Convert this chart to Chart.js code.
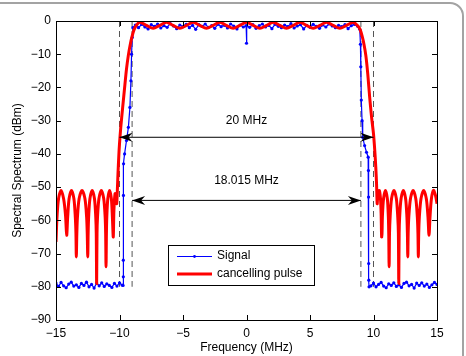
<!DOCTYPE html>
<html>
<head>
<meta charset="utf-8">
<script src="https://cdn.jsdelivr.net/npm/chart.js@4.4.0/dist/chart.umd.min.js"></script>
<style>
html, body { margin: 0; padding: 0; background: #fff; overflow: hidden; }
#wrap { position: relative; width: 466px; height: 356px; overflow: hidden; }
#frame { position: absolute; left: -30px; top: 2px; width: 494px; height: 400px; border: 2px solid #a3a3a3; border-radius: 14px; box-sizing: border-box; }
canvas { position: absolute; left: 0; top: 0; }
</style>
</head>
<body>
<div id="wrap">
  <div id="frame"></div>
  <canvas id="chart" width="466" height="356"></canvas>
</div>
<script>
// Axis ranges and ticks
var xTicks = [-15, -10, -5, 0, 5, 10, 15];
var yTicks = [-90, -80, -70, -60, -50, -40, -30, -20, -10, 0];

// Signal (blue), read segment by segment
var floorLeftFreq = [-15, -14.8, -14.6, -14.4, -14.2, -14, -13.8, -13.6, -13.4, -13.2, -13, -12.8, -12.6, -12.4, -12.2, -12, -11.8, -11.6, -11.4, -11.2, -11, -10.8, -10.6, -10.4, -10.2, -10, -9.8];
var floorLeftLevel = [-78.9, -79.9, -78.7, -79.7, -80.3, -79.2, -78.6, -79.8, -79.4, -80.2, -79.0, -79.6, -78.6, -80.0, -79.3, -80.4, -78.9, -79.7, -78.8, -79.9, -79.1, -79.6, -80.2, -79.0, -79.8, -78.8, -79.5];
var riseFreq = [-9.72, -9.7, -9.7, -9.69, -9.68, -9.6, -9.45, -9.3, -9.18, -9.1, -9.05, -9.0, -8.95];
var riseLevel = [-79.6, -77, -72, -52.5, -43, -40, -36, -32, -26, -18, -10, -5, -2];
var passFreq = [-8.75, -8.5, -8.25, -8, -7.75, -7.5, -7.25, -7, -6.75, -6.5, -6.25, -6, -5.75, -5.5, -5.25, -5, -4.75, -4.5, -4.25, -4, -3.75, -3.5, -3.25, -3, -2.75, -2.5, -2.25, -2, -1.75, -1.5, -1.25, -1, -0.75, -0.5, -0.25,
  -0.03, 0, 0.03,
  0.25, 0.5, 0.75, 1, 1.25, 1.5, 1.75, 2, 2.25, 2.5, 2.75, 3, 3.25, 3.5, 3.75, 4, 4.25, 4.5, 4.75, 5, 5.25, 5.5, 5.75, 6, 6.25, 6.5, 6.75, 7, 7.25, 7.5, 7.75, 8, 8.25, 8.5, 8.75];
var passLevel = [-1.2, -2.0, -1.0, -1.8, -2.4, -1.1, -1.6, -0.9, -2.1, -1.4, -1.9, -0.8, -1.5, -2.3, -1.2, -1.7, -1.0, -2.0, -1.3, -2.5, -1.1, -1.6, -0.9, -1.9, -1.4, -2.2, -1.0, -1.7, -1.3, -2.1, -0.9, -1.5, -2.4, -1.2, -1.8,
  -1.4, -6.7, -1.5,
  -1.9, -1.1, -2.2, -1.4, -0.9, -1.8, -1.3, -2.3, -1.0, -1.6, -2.0, -1.2, -1.7, -0.8, -2.1, -1.5, -1.1, -2.4, -1.3, -1.9, -1.0, -1.6, -2.2, -1.2, -1.8, -0.9, -1.5, -2.0, -1.3, -1.7, -1.1, -2.3, -1.4, -1.0, -1.6];
var fallFreq = [8.92, 8.97, 9.0, 9.04, 9.1, 9.15, 9.3, 9.45, 9.58, 9.6, 9.61, 9.62, 9.63, 9.65];
var fallLevel = [-2.5, -7, -13.8, -23.8, -30, -35, -37.5, -39.5, -41, -45, -53, -73, -78, -80];
var floorRightFreq = [9.8, 10, 10.2, 10.4, 10.6, 10.8, 11, 11.2, 11.4, 11.6, 11.8, 12, 12.2, 12.4, 12.6, 12.8, 13, 13.2, 13.4, 13.6, 13.8, 14, 14.2, 14.4, 14.6, 14.8, 15];
var floorRightLevel = [-79.7, -78.9, -80.0, -79.3, -78.7, -79.8, -80.3, -79.1, -79.6, -78.8, -79.9, -79.4, -80.2, -79.0, -78.6, -79.7, -79.3, -80.4, -78.9, -79.6, -78.8, -79.8, -79.2, -80.2, -79.4, -78.7, -79.3];

// Cancelling pulse (red)
var pulseLeftFreq = [-15.0, -14.92, -14.8, -14.6, -14.4, -14.25, -14.16,
  -14.08, -13.97, -13.78, -13.59, -13.48, -13.43, -13.4,
  -13.36, -13.31, -13.18, -12.95, -12.72, -12.59, -12.54, -12.5,
  -12.47, -12.43, -12.33, -12.15, -11.97, -11.87, -11.83, -11.8,
  -11.77, -11.73, -11.62, -11.43, -11.24, -11.13, -11.09, -11.06,
  -11.03, -11.0, -10.92, -10.78, -10.64, -10.56, -10.49,
  -10.44, -10.35, -10.27, -10.22,
  -10.17, -10.12, -10.06, -10.0, -9.9, -9.75, -9.57, -9.45, -9.31, -9.15, -9.0, -8.85, -8.65, -8.4];
var pulseLeftLevel = [-66.5, -59, -53.5, -51, -53.5, -58.5, -64.5,
  -59, -53.5, -51, -53.5, -59, -64, -71,
  -64, -59, -53.5, -51, -53.5, -59, -64, -71,
  -64, -59, -53.5, -51, -53.5, -59, -64, -79,
  -64, -59, -53.5, -51, -53.5, -59, -64, -74,
  -64, -59, -53.5, -51, -53.5, -59, -65,
  -57, -52, -53, -55,
  -51, -46, -41, -37, -32, -26, -19, -14.5, -10.5, -7, -4.5, -2.6, -1.2, -0.4];
var pulseTopFreq = [-7.87, -7.35, -6.83, -6.3, -5.78, -5.25, -4.73, -4.2, -3.68, -3.15, -2.63, -2.1, -1.58, -1.05, -0.53, 0,
  0.53, 1.05, 1.58, 2.1, 2.63, 3.15, 3.68, 4.2, 4.73, 5.25, 5.78, 6.3, 6.83, 7.35, 7.87, 8.4];
var pulseTopLevel = [-1.3, -2.2, -1.3, -0.4, -1.3, -2.2, -1.3, -0.4, -1.3, -2.2, -1.3, -0.4, -1.3, -2.2, -1.3, -0.4,
  -1.3, -2.2, -1.3, -0.4, -1.3, -2.2, -1.3, -0.4, -1.3, -2.2, -1.3, -0.4, -1.3, -2.2, -1.3, -0.4];
var pulseRightFreq = [8.6, 8.8, 8.95, 9.1, 9.25, 9.4, 9.55, 9.7, 9.85, 10.0, 10.1, 10.18, 10.24, 10.29,
  10.34, 10.46, 10.55, 10.6, 10.64,
  10.67, 10.7, 10.79, 10.94, 11.09, 11.17, 11.2, 11.23,
  11.26, 11.31, 11.42, 11.61, 11.8, 11.91, 11.96, 11.99,
  12.02, 12.06, 12.17, 12.35, 12.53, 12.63, 12.67, 12.7,
  12.73, 12.78, 12.91, 13.12, 13.33, 13.45, 13.5, 13.53,
  13.56, 13.61, 13.74, 13.95, 14.16, 14.29, 14.37,
  14.45, 14.56, 14.72, 14.88, 15.0];
var pulseRightLevel = [-0.9, -1.6, -2.6, -4.5, -7, -10.5, -16, -23, -29, -34, -39, -44, -49, -55,
  -52.5, -51, -53.5, -58, -65,
  -64, -59, -53.5, -51, -53.5, -59, -64, -74,
  -64, -59, -53.5, -51, -53.5, -59, -64, -79,
  -64, -59, -53.5, -51, -53.5, -59, -64, -71,
  -64, -59, -53.5, -51, -53.5, -59, -64, -71,
  -64, -59, -53.5, -51, -53.5, -59, -64.5,
  -59, -53.5, -51, -52.5, -55];

// Dashed band edges and the two bandwidth arrows
var edgeFreq = [-10, -9.0075, 9.0075, 10];
var edgeRange = [0, -80];
var spanLabels = ['20 MHz', '18.015 MHz'];
var spanFrom = [-10, -9.0075];
var spanTo = [10, 9.0075];
var spanLevel = [-35, -54];
var spanTextLevel = [-30, -48];

var FONT = '"Liberation Sans", Arial, Helvetica, sans-serif';

function toPoints(xs, ys) {
    return xs.map(function(x, i) { return { x: x, y: ys[i] }; });
}

function minusSign(v) {
    return String(v).replace('-', '\u2212');
}

var signalPoints = toPoints(floorLeftFreq, floorLeftLevel)
    .concat(toPoints(riseFreq, riseLevel))
    .concat(toPoints(passFreq, passLevel))
    .concat(toPoints(fallFreq, fallLevel))
    .concat(toPoints(floorRightFreq, floorRightLevel));

var pulsePoints = toPoints(pulseLeftFreq, pulseLeftLevel)
    .concat(toPoints(pulseTopFreq, pulseTopLevel))
    .concat(toPoints(pulseRightFreq, pulseRightLevel));

var datasets = [];

// arrows on top
spanLabels.forEach(function(label, i) {
    datasets.push({
        label: label,
        data: [{ x: spanFrom[i], y: spanLevel[i] }, { x: spanTo[i], y: spanLevel[i] }],
        borderColor: '#000',
        borderWidth: 1,
        pointRadius: 0,
        order: 0
    });
});

datasets.push({
    label: 'cancelling pulse',
    data: pulsePoints,
    borderColor: '#ff0000',
    borderWidth: 3,
    pointRadius: 0,
    tension: 0.3,
    order: 1
});

datasets.push({
    label: 'Signal',
    data: signalPoints,
    borderColor: '#0000ff',
    borderWidth: 1.2,
    pointRadius: 1.6,
    pointBorderWidth: 0,
    pointBackgroundColor: '#0000ff',
    tension: 0,
    order: 2
});

edgeFreq.forEach(function(f) {
    datasets.push({
        label: 'edge',
        data: [{ x: f, y: edgeRange[0] }, { x: f, y: edgeRange[1] }],
        borderColor: '#555',
        borderWidth: 1,
        borderDash: [6, 4],
        pointRadius: 0,
        order: 3
    });
});

function drawHead(ctx, x, y, dir) {
    ctx.beginPath();
    ctx.moveTo(x, y);
    ctx.lineTo(x - dir * 13, y - 4.5);
    ctx.lineTo(x - dir * 9, y);
    ctx.lineTo(x - dir * 13, y + 4.5);
    ctx.closePath();
    ctx.fill();
}

// Arrow heads, span texts, box with inward ticks and the legend
var decorations = {
    id: 'decorations',
    afterDraw: function(chart) {
        var ctx = chart.ctx;
        var xs = chart.scales.x;
        var ys = chart.scales.y;
        var area = chart.chartArea;
        ctx.save();

        ctx.fillStyle = '#000';
        spanLabels.forEach(function(label, i) {
            var y = ys.getPixelForValue(spanLevel[i]);
            drawHead(ctx, xs.getPixelForValue(spanFrom[i]), y, -1);
            drawHead(ctx, xs.getPixelForValue(spanTo[i]), y, 1);
            ctx.font = '12px ' + FONT;
            ctx.textAlign = 'center';
            ctx.textBaseline = 'middle';
            ctx.fillText(label, xs.getPixelForValue(0), ys.getPixelForValue(spanTextLevel[i]));
        });

        // box
        ctx.strokeStyle = '#000';
        ctx.lineWidth = 1;
        ctx.strokeRect(Math.round(area.left) + 0.5, Math.round(area.top) + 0.5,
            Math.round(area.right - area.left), Math.round(area.bottom - area.top));

        // inward ticks
        ctx.beginPath();
        xTicks.forEach(function(v) {
            var px = Math.round(xs.getPixelForValue(v)) + 0.5;
            ctx.moveTo(px, area.bottom); ctx.lineTo(px, area.bottom - 5);
            ctx.moveTo(px, area.top); ctx.lineTo(px, area.top + 5);
        });
        yTicks.forEach(function(v) {
            var py = Math.round(ys.getPixelForValue(v)) + 0.5;
            ctx.moveTo(area.left, py); ctx.lineTo(area.left + 5, py);
            ctx.moveTo(area.right, py); ctx.lineTo(area.right - 5, py);
        });
        ctx.stroke();

        // legend
        var lx = 168, ly = 245, lw = 146, lh = 40;
        ctx.fillStyle = '#fff';
        ctx.fillRect(lx, ly, lw, lh);
        ctx.strokeStyle = '#000';
        ctx.strokeRect(lx + 0.5, ly + 0.5, lw, lh);

        ctx.strokeStyle = '#0000ff';
        ctx.lineWidth = 1;
        ctx.beginPath();
        ctx.moveTo(177, 256.5); ctx.lineTo(212, 256.5);
        ctx.stroke();
        ctx.fillStyle = '#0000ff';
        ctx.beginPath();
        ctx.arc(194.5, 256.5, 1.4, 0, Math.PI * 2);
        ctx.fill();

        ctx.strokeStyle = '#ff0000';
        ctx.lineWidth = 3;
        ctx.beginPath();
        ctx.moveTo(177, 274); ctx.lineTo(212, 274);
        ctx.stroke();

        ctx.fillStyle = '#000';
        ctx.font = '12px ' + FONT;
        ctx.textAlign = 'left';
        ctx.textBaseline = 'middle';
        ctx.fillText('Signal', 217, 256);
        ctx.fillText('cancelling pulse', 217, 274);

        ctx.restore();
    }
};

document.addEventListener('DOMContentLoaded', function() {
    var ctx = document.getElementById('chart').getContext('2d');
    new Chart(ctx, {
        type: 'line',
        data: { datasets: datasets },
        options: {
            responsive: false,
            animation: false,
            devicePixelRatio: 1,
            layout: { padding: { left: 0, right: 29, top: 21, bottom: 0 } },
            plugins: {
                legend: { display: false },
                tooltip: { enabled: false }
            },
            scales: {
                x: {
                    type: 'linear',
                    min: xTicks[0],
                    max: xTicks[xTicks.length - 1],
                    afterFit: function(scale) { scale.height = 36; },
                    afterBuildTicks: function(scale) {
                        scale.ticks = xTicks.map(function(v) { return { value: v }; });
                    },
                    grid: { display: false, drawTicks: false },
                    border: { display: false },
                    ticks: {
                        padding: 6,
                        color: '#000',
                        font: { size: 12, family: FONT },
                        maxRotation: 0,
                        callback: minusSign
                    },
                    title: {
                        display: true,
                        text: 'Frequency (MHz)',
                        color: '#000',
                        font: { size: 12, family: FONT },
                        padding: { top: 0, bottom: 1.5 }
                    }
                },
                y: {
                    type: 'linear',
                    min: yTicks[0],
                    max: yTicks[yTicks.length - 1],
                    afterFit: function(scale) { scale.width = 56; },
                    afterBuildTicks: function(scale) {
                        scale.ticks = yTicks.map(function(v) { return { value: v }; });
                    },
                    grid: { display: false, drawTicks: false },
                    border: { display: false },
                    ticks: {
                        padding: 5,
                        color: '#000',
                        font: { size: 12, family: FONT },
                        callback: minusSign
                    },
                    title: {
                        display: true,
                        text: 'Spectral Spectrum (dBm)',
                        color: '#000',
                        font: { size: 12, family: FONT },
                        padding: { top: 10.5, bottom: 0 }
                    }
                }
            }
        },
        plugins: [decorations]
    });
});
</script>
</body>
</html>
